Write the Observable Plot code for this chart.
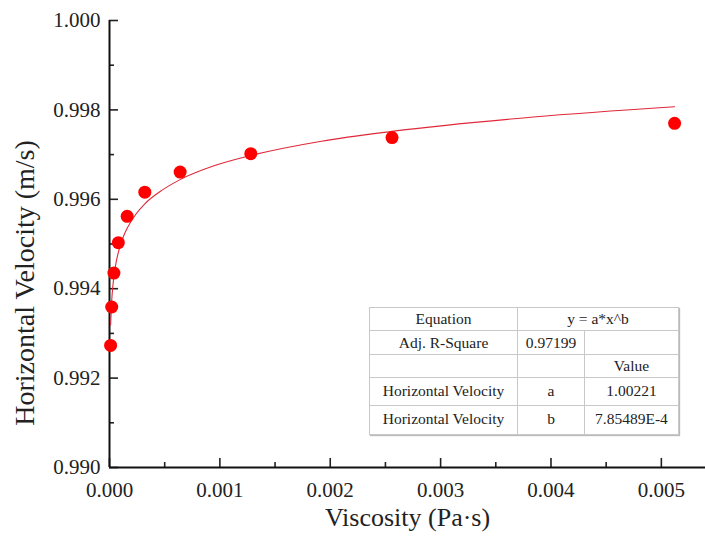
<!DOCTYPE html>
<html>
<head>
<meta charset="utf-8">
<script src="https://cdn.jsdelivr.net/npm/d3@7"></script>
<script src="https://cdn.jsdelivr.net/npm/@observablehq/plot@0.6"></script>
<style>
  html, body { margin: 0; padding: 0; background: #fff; }
  #wrap { position: relative; width: 705px; height: 544px; font-family: "Liberation Serif", "Times New Roman", Tinos, "DejaVu Serif", serif; }
  #wrap svg, #wrap svg text { font-family: "Liberation Serif", "Times New Roman", Tinos, "DejaVu Serif", serif; }
  #fit { position: absolute; left: 369px; top: 307px; border-collapse: collapse; table-layout: fixed;
         font-family: "Liberation Serif", "Times New Roman", Tinos, "DejaVu Serif", serif; font-size: 15.5px; color: #222; background: #fff;
         border: 1.5px solid #555; box-shadow: 1px 1px 1px #bbb; }
  #fit td { border: 1px solid #c8c8c8; text-align: center; padding: 0; line-height: 1; white-space: nowrap; }
  #fit tr.low td { vertical-align: top; padding-top: 5px; }
</style>
</head>
<body>
<div id="wrap"></div>
<script>
// Measured data (viscosity in Pa·s, horizontal velocity in m/s)
const viscosity = [0.00001, 0.00002, 0.00004, 0.00008, 0.00016, 0.00032, 0.00064, 0.00128, 0.00256, 0.00512];
const velocity  = [0.99273, 0.99359, 0.99435, 0.99503, 0.99562, 0.99616, 0.99661, 0.99702, 0.99738, 0.99770];

// Fitted curve, points
const fitViscosity = [0.00001, 0.00002, 0.00003, 0.00004, 0.00006, 0.00008, 0.00012, 0.00016, 0.00024, 0.00032, 0.00048, 0.00064, 0.00096, 0.00128, 0.00192, 0.00256, 0.00384, 0.00512];
const fitVelocity  = [0.99319, 0.99373, 0.99405, 0.99427, 0.99459, 0.99481, 0.99513, 0.99535, 0.99567, 0.99590, 0.99621, 0.99644, 0.99676, 0.99698, 0.99730, 0.99752, 0.99784, 0.99807];

// Tick values
const xMajor = [0, 0.001, 0.002, 0.003, 0.004, 0.005];
const xMinor = [0.0005, 0.0015, 0.0025, 0.0035, 0.0045];
const yMajor = [0.990, 0.992, 0.994, 0.996, 0.998, 1.000];
const yMinor = [0.991, 0.993, 0.995, 0.997, 0.999];

// Fit table
const tableRows = [
  ["Equation", "y = a*x^b"],
  ["Adj. R-Square", "0.97199", ""],
  ["", "", "Value"],
  ["Horizontal Velocity", "a", "1.00221"],
  ["Horizontal Velocity", "b", "7.85489E-4"]
];

const points = viscosity.map((v, i) => ({x: v, y: velocity[i]}));
const curve = fitViscosity.map((v, i) => ({x: v, y: fitVelocity[i]}));
const fmt = d3.format(".3f");
const serif = "'Liberation Serif', 'Times New Roman', Tinos, 'DejaVu Serif', serif";

const chart = Plot.plot({
  width: 705,
  height: 544,
  marginLeft: 109,
  marginRight: 0,
  marginTop: 20,
  marginBottom: 77,
  x: {domain: [0, 0.0054], label: null},
  y: {domain: [0.990, 1.000], label: null},
  style: {fontFamily: serif, background: "#fff", color: "#222", overflow: "visible"},
  marks: [
    Plot.axisX({ticks: xMajor, tickSize: -9, text: null, strokeWidth: 1.6, label: null}),
    Plot.axisX({ticks: xMinor, tickSize: -5, text: null, strokeWidth: 1.6, label: null}),
    Plot.axisX({ticks: xMajor, tickSize: 0, tickPadding: 15, tickFormat: fmt, fontSize: 21, label: null}),
    Plot.axisY({ticks: yMajor, tickSize: -9, text: null, strokeWidth: 1.6, label: null}),
    Plot.axisY({ticks: yMinor, tickSize: -5, text: null, strokeWidth: 1.6, label: null}),
    Plot.axisY({ticks: yMajor, tickSize: 0, tickPadding: 9, tickFormat: fmt, fontSize: 21, label: null}),
    Plot.ruleX([0], {stroke: "#111", strokeWidth: 2}),
    Plot.ruleY([0.990], {stroke: "#111", strokeWidth: 2}),
    Plot.line(curve, {x: "x", y: "y", stroke: "#e0283a", strokeWidth: 1.1, curve: "monotone-x"}),
    Plot.dot(points, {x: "x", y: "y", r: 6.5, fill: "#ff0000", stroke: null}),
    Plot.text(["Viscosity (Pa·s)"], {frameAnchor: "bottom", textAnchor: "middle", dy: 58, fontSize: 26, fill: "#222"}),
    Plot.text(["Horizontal Velocity (m/s)"], {frameAnchor: "left", textAnchor: "middle", rotate: -90, dx: -84, dy: 39, fontSize: 28, fill: "#222"})
  ]
});

const wrap = document.getElementById("wrap");
wrap.appendChild(chart);

// Build the fit-results table over the plot
const colW = [148, 67, 94];
const rowH = [23, 24, 23, 28, 29];
const table = document.createElement("table");
table.id = "fit";
const cg = document.createElement("colgroup");
colW.forEach(w => { const c = document.createElement("col"); c.style.width = w + "px"; cg.appendChild(c); });
table.appendChild(cg);
tableRows.forEach((row, ri) => {
  const tr = document.createElement("tr");
  tr.style.height = rowH[ri] + "px";
  if (ri >= 3) tr.className = "low";
  row.forEach((cell, ci) => {
    const td = document.createElement("td");
    td.textContent = cell;
    if (ri === 0 && ci === 1) td.colSpan = 2;
    tr.appendChild(td);
  });
  table.appendChild(tr);
});
table.style.width = (colW[0] + colW[1] + colW[2]) + "px";
wrap.appendChild(table);
</script>
</body>
</html>
